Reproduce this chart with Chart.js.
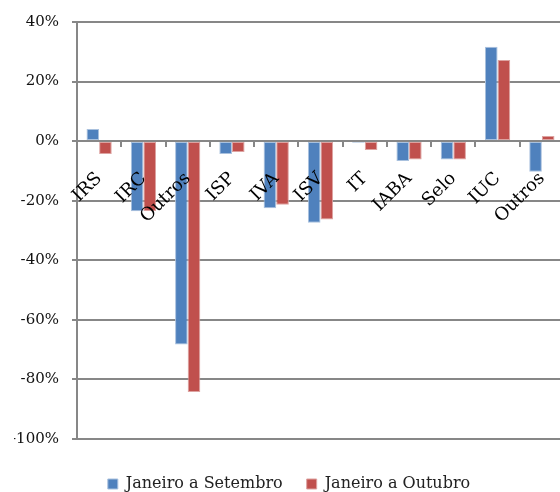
<!DOCTYPE html>
<html>
<head>
<meta charset="utf-8">
<script src="https://cdn.jsdelivr.net/npm/chart.js"></script>
<style>
html, body { margin: 0; padding: 0; background: #fff; overflow: hidden; }
#wrap { width: 564px; height: 492px; }
</style>
</head>
<body>
<div id="wrap"><canvas id="barCanvas"></canvas></div>
<script>
// categorias e valores (%)
const categorias = ["IRS", "IRC", "Outros", "ISP", "IVA", "ISV", "IT", "IABA", "Selo", "IUC", "Outros"];
const janSetembro = [4.1, -23.6, -68.3, -4.3, -22.6, -27.4, -0.6, -6.7, -6.2, 31.7, -10.3];
const janOutubro = [-4.3, -23.5, -84.3, -3.7, -21.4, -26.3, -3.0, -6.2, -6.2, 27.2, 1.7];
const ticksY = [40, 20, 0, -20, -40, -60, -80, -100];

const fonte = "'DejaVu Serif', 'Liberation Serif', serif";
const cinza = '#878787';

const barCanvas = document.getElementById("barCanvas");
const barChart = new Chart(barCanvas, {
    type: "bar",
    data: {
        labels: categorias,
        datasets: [{
            label: "Janeiro a Setembro",
            data: janSetembro,
            backgroundColor: '#4F81BD',
            borderColor: '#A9C1DE',
            borderWidth: 1,
            borderSkipped: false
        }, {
            label: "Janeiro a Outubro",
            data: janOutubro,
            backgroundColor: '#C0504D',
            borderColor: '#DDA3A1',
            borderWidth: 1,
            borderSkipped: false
        }]
    },
    options: {
        responsive: true,
        maintainAspectRatio: false,
        animation: false,
        categoryPercentage: 0.57,
        barPercentage: 1,
        layout: {
            padding: { top: 22, right: 0, bottom: -10, left: 14 }
        },
        plugins: {
            tooltip: { enabled: false },
            legend: {
                position: 'bottom',
                // título vazio só para afastar a legenda do gráfico
                title: { display: true, text: '', font: { size: 1 }, padding: { top: 0, bottom: 12 } },
                labels: {
                    boxWidth: 10,
                    boxHeight: 10,
                    padding: 24,
                    color: '#222',
                    font: { family: fonte, size: 16 }
                }
            }
        },
        scales: {
            x: {
                position: { y: 0 },
                afterFit: (s) => { s.paddingLeft = 0; s.paddingRight = 0; },
                grid: {
                    drawOnChartArea: false,
                    tickLength: 5,
                    color: cinza,
                    lineWidth: 2
                },
                border: { color: cinza, width: 2 },
                ticks: {
                    z: 1,
                    autoSkip: false,
                    minRotation: 45,
                    maxRotation: 45,
                    padding: 22,
                    color: '#000',
                    font: { family: fonte, size: 18 }
                }
            },
            y: {
                min: -100,
                max: 40,
                afterFit: (s) => { s.width = 63; },
                afterBuildTicks: (s) => { s.ticks = ticksY.map(v => ({ value: v })); },
                grid: {
                    color: cinza,
                    lineWidth: 2,
                    tickLength: 5
                },
                border: { color: cinza, width: 2 },
                ticks: {
                    padding: 13,
                    color: '#111',
                    font: { family: fonte, size: 15 },
                    callback: (v) => v + '%'
                }
            }
        }
    }
});
</script>
</body>
</html>
